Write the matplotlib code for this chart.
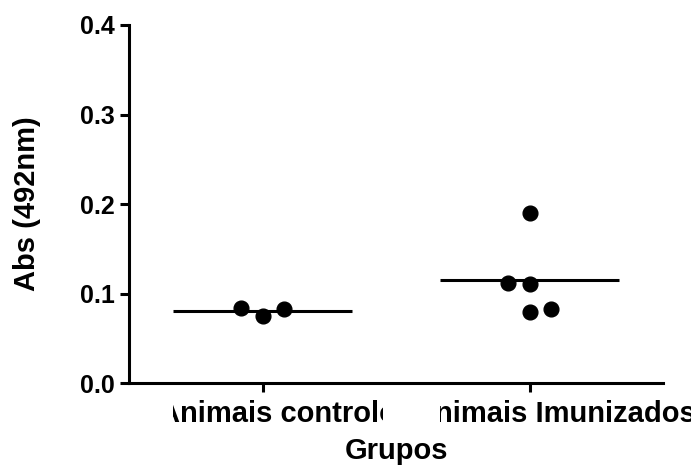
import matplotlib
matplotlib.use("Agg")
import matplotlib.pyplot as plt
import matplotlib.transforms as mtransforms
import numpy as np

plt.rcParams['font.family'] = ['Liberation Sans', 'DejaVu Sans']
plt.rcParams['font.weight'] = 'bold'

# data
grupos = ['Animais controlo', 'Animais Imunizados']
controlo = [0.0841, 0.0752, 0.0830]
imunizados = [0.1121, 0.1103, 0.0790, 0.0827, 0.1900]
# horizontal scatter of the dots (category units)
jit_controlo = [-0.08, 0.0, 0.08]
jit_imunizados = [-0.08, 0.0, 0.0, 0.08, 0.0]
yticks = [0.0, 0.1, 0.2, 0.3, 0.4]

fig = plt.figure(figsize=(6.91, 4.65), dpi=100)
ax = fig.add_axes([129/691, 82/465, 534/691, 358/465])

for i, (vals, jit) in enumerate([(controlo, jit_controlo), (imunizados, jit_imunizados)]):
    ax.plot(i + np.array(jit), vals, 'o', color='black', markersize=10.6, zorder=3)
    m = np.mean(vals)
    ax.plot([i - 0.335, i + 0.335], [m, m], color='black', lw=2.2, solid_capstyle='butt', zorder=2)

ax.set_xlim(-0.5, 1.5)
ax.set_ylim(0, 0.4)
ax.set_yticks(yticks)
ax.set_yticklabels(['%.1f' % t for t in yticks], fontsize=18, fontweight='bold')
ax.set_xticks(range(len(grupos)))
ax.set_xticklabels([])

for s in ['top', 'right']:
    ax.spines[s].set_visible(False)
for s in ['left', 'bottom']:
    ax.spines[s].set_linewidth(2.2)
    ax.spines[s].set_capstyle('projecting')
ax.tick_params(axis='both', length=6.5, width=2.2, direction='out')
ax.tick_params(axis='y', pad=3.6)

# category labels, clipped like in the original export
offsets = [15, 25]
clips = [(173, 383), (440, 691)]
for i, name in enumerate(grupos):
    tr = mtransforms.offset_copy(ax.get_xaxis_transform(), fig=fig,
                                 x=offsets[i], y=-17, units='dots')
    t = ax.text(i, 0, name, transform=tr, ha='center', va='top',
                fontsize=21, fontweight='bold', clip_on=True)
    x0, x1 = clips[i]
    t.set_clip_box(mtransforms.TransformedBbox(
        mtransforms.Bbox([[x0/691, 0], [x1/691, 80/465]]), fig.transFigure))

ax.set_xlabel('Grupos', fontsize=21, fontweight='bold')
ax.xaxis.set_label_coords(0.5, -0.152)
ax.set_ylabel('Abs (492nm)', fontsize=21, fontweight='bold')
ax.yaxis.set_label_coords(-0.165, 0.5)

fig.savefig('out.png', dpi=100)
